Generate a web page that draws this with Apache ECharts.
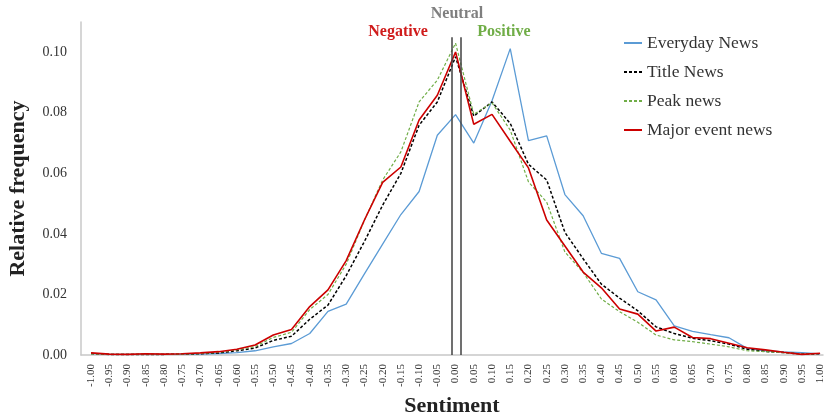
<!DOCTYPE html>
<html>
<head>
<meta charset="utf-8">
<title>Sentiment distribution</title>
<script src="https://cdn.jsdelivr.net/npm/echarts@6/dist/echarts.min.js"></script>
<style>
  html, body { margin: 0; padding: 0; background: #fff; }
  #main { width: 828px; height: 414px; }
</style>
</head>
<body>
<div id="main"></div>
<script>
// sentiment bins, -1.00 .. 1.00 step 0.05
var sentiment = [-1.00, -0.95, -0.90, -0.85, -0.80, -0.75, -0.70, -0.65, -0.60, -0.55,
  -0.50, -0.45, -0.40, -0.35, -0.30, -0.25, -0.20, -0.15, -0.10, -0.05,
  0.00, 0.05, 0.10, 0.15, 0.20, 0.25, 0.30, 0.35, 0.40, 0.45,
  0.50, 0.55, 0.60, 0.65, 0.70, 0.75, 0.80, 0.85, 0.90, 0.95, 1.00]

var everydayNews = [0.0005, 0.0002, 0.0002, 0.0002, 0.0002, 0.0002, 0.0003, 0.0005, 0.0008, 0.0014,
  0.0027, 0.0038, 0.0071, 0.0144, 0.0168, 0.0268, 0.0366, 0.0464, 0.0540, 0.0726,
  0.0794, 0.0700, 0.0840, 0.1012, 0.0708, 0.0724, 0.0530, 0.0460, 0.0336, 0.0319,
  0.0209, 0.0182, 0.0096, 0.0078, 0.0067, 0.0057, 0.0022, 0.0014, 0.0010, 0.0008, 0.0004]

var titleNews = [0.0005, 0.0002, 0.0002, 0.0002, 0.0002, 0.0003, 0.0004, 0.0007, 0.0014, 0.0023,
  0.0048, 0.0062, 0.0118, 0.0165, 0.0262, 0.0375, 0.0495, 0.0600, 0.0759, 0.0836,
  0.0985, 0.0789, 0.0836, 0.0765, 0.0630, 0.0578, 0.0405, 0.0318, 0.0234, 0.0188,
  0.0146, 0.0093, 0.0071, 0.0055, 0.0047, 0.0036, 0.0019, 0.0012, 0.0008, 0.0003, 0.0004]

var peakNews = [0.0004, 0.0002, 0.0002, 0.0003, 0.0002, 0.0003, 0.0005, 0.0009, 0.0017, 0.0028,
  0.0058, 0.0075, 0.0150, 0.0200, 0.0300, 0.0445, 0.0578, 0.0671, 0.0836, 0.0908,
  0.1030, 0.0795, 0.0833, 0.0743, 0.0572, 0.0505, 0.0340, 0.0273, 0.0185, 0.0143,
  0.0108, 0.0066, 0.0050, 0.0044, 0.0036, 0.0027, 0.0014, 0.0011, 0.0008, 0.0003, 0.0005]

var majorEventNews = [0.0007, 0.0003, 0.0002, 0.0004, 0.0003, 0.0004, 0.0007, 0.0011, 0.0019, 0.0033,
  0.0066, 0.0084, 0.0160, 0.0215, 0.0312, 0.0446, 0.0570, 0.0621, 0.0776, 0.0858,
  0.1001, 0.0762, 0.0795, 0.0706, 0.0618, 0.0446, 0.0360, 0.0274, 0.0222, 0.0152,
  0.0135, 0.0079, 0.0092, 0.0058, 0.0054, 0.0039, 0.0024, 0.0017, 0.0009, 0.0002, 0.0006]

// y ticks
var yTicks = [0, 0.02, 0.04, 0.06, 0.08, 0.10]
// the two vertical lines around neutral
var neutralBounds = [-0.01, 0.015]
var neutralTop = 0.105

var serif = '"Liberation Serif", "DejaVu Serif", serif'

function pairs(values) {
  return values.map(function(v, i) {
    return [sentiment[i], v]
  })
}

var myChart = echarts.init(document.getElementById('main'), null, { renderer: 'canvas' })

var option = {
  backgroundColor: '#fff',
  animation: false,
  textStyle: { fontFamily: serif },
  grid: {
    left: 81,
    right: 5,
    top: 22,
    bottom: 59,
    containLabel: false,
    outerBoundsMode: 'none'
  },
  legend: {
    orient: 'vertical',
    left: 618,
    top: 28,
    itemWidth: 18,
    itemHeight: 14,
    itemGap: 9,
    itemStyle: { opacity: 0 },
    textStyle: {
      fontFamily: serif,
      fontSize: 17.5,
      lineHeight: 20,
      color: '#333'
    },
    data: ['Everyday News', 'Title News', 'Peak news', 'Major event news']
  },
  xAxis: {
    type: 'value',
    min: -1.0275,
    max: 1.008,
    name: 'Sentiment',
    nameLocation: 'middle',
    nameGap: 39,
    nameTextStyle: {
      fontFamily: serif,
      fontSize: 22,
      fontWeight: 'bold',
      color: '#222'
    },
    splitLine: { show: false },
    axisTick: { show: false },
    axisLine: {
      onZero: false,
      lineStyle: { color: '#c8c8c8', width: 1.5 }
    },
    axisLabel: {
      customValues: sentiment,
      rotate: 90,
      margin: 9,
      fontFamily: serif,
      fontSize: 11,
      color: '#333',
      formatter: function(v) {
        return v.toFixed(2)
      }
    }
  },
  yAxis: {
    type: 'value',
    min: 0,
    max: 0.11,
    name: 'Relative frequency',
    nameLocation: 'middle',
    nameGap: 52,
    nameTextStyle: {
      fontFamily: serif,
      fontSize: 22,
      fontWeight: 'bold',
      color: '#222'
    },
    splitLine: { show: false },
    axisTick: { show: false },
    axisLine: {
      show: true,
      onZero: false,
      lineStyle: { color: '#c8c8c8', width: 1.5 }
    },
    axisLabel: {
      customValues: yTicks,
      margin: 14,
      fontFamily: serif,
      fontSize: 14,
      color: '#333',
      formatter: function(v) {
        return v.toFixed(2)
      }
    }
  },
  series: [{
    name: 'Everyday News',
    type: 'line',
    data: pairs(everydayNews),
    symbol: 'none',
    lineStyle: { color: '#5b9bd5', width: 1.3 },
    itemStyle: { color: '#5b9bd5' },
    markLine: {
      silent: true,
      symbol: 'none',
      label: { show: false },
      lineStyle: { color: '#404040', width: 1.5, type: 'solid' },
      data: neutralBounds.map(function(x) {
        return [{ coord: [x, 0] }, { coord: [x, neutralTop] }]
      })
    }
  }, {
    name: 'Title News',
    type: 'line',
    data: pairs(titleNews),
    symbol: 'none',
    lineStyle: { color: '#000', width: 1.5, type: [3, 2] },
    itemStyle: { color: '#000' }
  }, {
    name: 'Peak news',
    type: 'line',
    data: pairs(peakNews),
    symbol: 'none',
    lineStyle: { color: '#70ad47', width: 1.2, type: [3, 2] },
    itemStyle: { color: '#70ad47' }
  }, {
    name: 'Major event news',
    type: 'line',
    data: pairs(majorEventNews),
    symbol: 'none',
    lineStyle: { color: '#cc0000', width: 1.6 },
    itemStyle: { color: '#cc0000' }
  }],
  // region labels above the peak
  graphic: [{
    type: 'text',
    x: 457,
    y: 14,
    style: {
      text: 'Neutral',
      font: 'bold 16px ' + serif,
      fill: '#7f7f7f',
      align: 'center',
      verticalAlign: 'middle'
    }
  }, {
    type: 'text',
    x: 398,
    y: 32,
    style: {
      text: 'Negative',
      font: 'bold 16px ' + serif,
      fill: '#d01c1c',
      align: 'center',
      verticalAlign: 'middle'
    }
  }, {
    type: 'text',
    x: 504,
    y: 32,
    style: {
      text: 'Positive',
      font: 'bold 16px ' + serif,
      fill: '#70ad47',
      align: 'center',
      verticalAlign: 'middle'
    }
  }]
}

myChart.setOption(option)
window.addEventListener('resize', function() {
  myChart.resize()
})
</script>
</body>
</html>
